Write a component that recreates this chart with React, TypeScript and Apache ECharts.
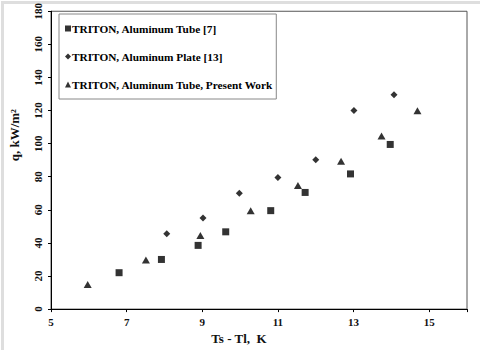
import React, { useEffect, useRef } from "react";
import * as echarts from "echarts";

const tubeRef7X = [6.8, 7.92, 8.89, 9.62, 10.81, 11.72, 12.92, 13.97];
const tubeRef7Y = [22, 30, 38.5, 46.7, 59.5, 70.5, 81.7, 99.5];

const plateRef13X = [8.06, 9.02, 9.98, 11.0, 12.0, 13.01, 14.07];
const plateRef13Y = [45.5, 55, 70, 79.5, 90.2, 120, 129.5];

const presentX = [5.97, 7.51, 8.95, 10.28, 11.53, 12.67, 13.74, 14.69];
const presentY = [14.8, 29.6, 44.5, 59.5, 74.7, 89.4, 104.6, 119.8];

const seriesNames = [
  "TRITON, Aluminum Tube [7]",
  "TRITON, Aluminum Plate [13]",
  "TRITON, Aluminum Tube, Present Work",
];

const xTicks = [5, 7, 9, 11, 13, 15];

const zip = (xs: number[], ys: number[]) => xs.map((x, i) => [x, ys[i]]);

export default function App() {
  const ref = useRef<HTMLDivElement>(null);
  useEffect(() => {
    if (!ref.current) return;
    const chart = echarts.init(ref.current, undefined, { renderer: "svg" });
    const font = "Liberation Serif";
    chart.setOption({
      animation: false,
      backgroundColor: "#ffffff",
      textStyle: { fontFamily: font },
      graphic: [
        {
          type: "rect",
          left: 0,
          top: 0,
          shape: { x: 0, y: 0, width: 479, height: 349 },
          style: { fill: "none", stroke: "#dedede", lineWidth: 3 },
          silent: true,
        },
      ],
      grid: {
        left: 48,
        right: 13,
        top: 8,
        bottom: 38,
        show: true,
        borderColor: "#555",
        borderWidth: 1,
        backgroundColor: "transparent",
      },
      legend: {
        orient: "vertical",
        left: 59,
        top: 14,
        padding: [9, 3, 9, 6],
        itemGap: 17,
        itemWidth: 6,
        itemHeight: 6,
        borderColor: "#888",
        borderWidth: 1,
        backgroundColor: "#fff",
        textStyle: {
          fontFamily: font,
          fontWeight: "bold",
          fontSize: 11.3,
          color: "#000",
          padding: [0, 0, 0, -4],
        },
        data: seriesNames,
      },
      xAxis: {
        type: "value",
        min: 5,
        max: 16,
        interval: 2,
        name: "Ts - Tl,  K",
        nameLocation: "middle",
        nameGap: 21,
        nameTextStyle: {
          fontFamily: font,
          fontWeight: "bold",
          fontSize: 13,
          color: "#111",
          padding: [0, 40, 0, 0],
        },
        axisLine: { show: true, onZero: false, lineStyle: { color: "#000", width: 1 } },
        axisTick: { show: true, length: 3, lineStyle: { color: "#000" } },
        axisLabel: {
          margin: 7,
          fontFamily: font,
          fontWeight: "bold",
          fontSize: 11,
          color: "#111",
          formatter: (v: number) => (xTicks.includes(v) ? String(v) : ""),
        },
        splitLine: { show: false },
      },
      yAxis: {
        type: "value",
        min: 0,
        max: 180,
        interval: 20,
        name: "q, kW/m²",
        nameLocation: "middle",
        nameRotate: 90,
        nameGap: 30,
        nameTextStyle: {
          fontFamily: font,
          fontWeight: "bold",
          fontSize: 13,
          color: "#111",
          padding: [0, 0, 0, 50],
        },
        axisLine: { show: true, onZero: false, lineStyle: { color: "#000", width: 1 } },
        axisTick: { show: true, length: 3, lineStyle: { color: "#000" } },
        axisLabel: {
          rotate: 90,
          margin: 8,
          fontFamily: font,
          fontWeight: "bold",
          fontSize: 11,
          color: "#111",
        },
        splitLine: { show: false },
      },
      series: [
        {
          name: seriesNames[0],
          type: "scatter",
          symbol: "rect",
          symbolSize: 7,
          itemStyle: { color: "#000" },
          data: zip(tubeRef7X, tubeRef7Y),
        },
        {
          name: seriesNames[1],
          type: "scatter",
          symbol: "diamond",
          symbolSize: [7, 7],
          itemStyle: { color: "#000" },
          data: zip(plateRef13X, plateRef13Y),
        },
        {
          name: seriesNames[2],
          type: "scatter",
          symbol: "triangle",
          symbolSize: [8, 7],
          itemStyle: { color: "#000" },
          data: zip(presentX, presentY),
        },
      ],
    });
    return () => chart.dispose();
  }, []);
  return (
    <div
      ref={ref}
      style={{ position: "fixed", left: 0, top: 0, width: 480, height: 350 }}
    />
  );
}
